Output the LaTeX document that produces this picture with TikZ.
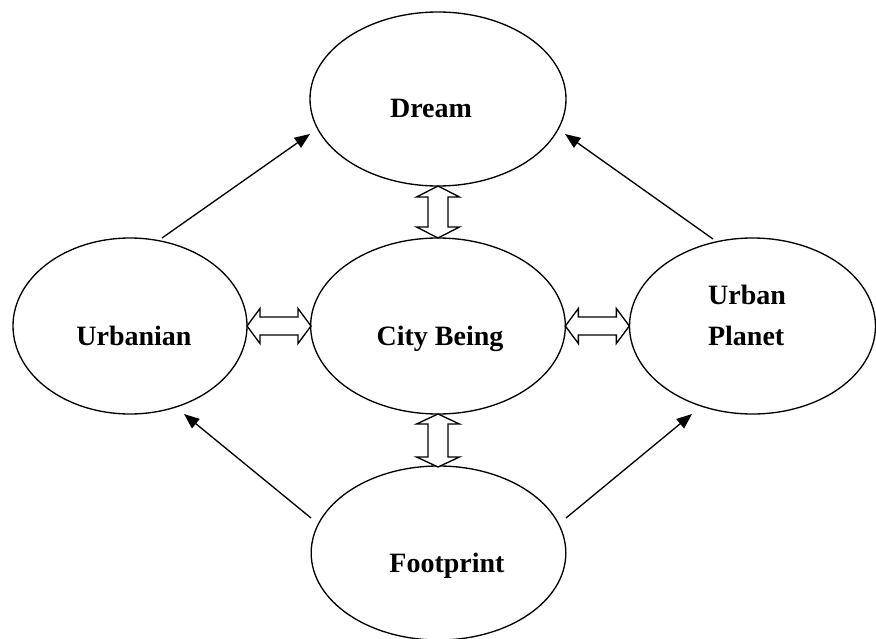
\documentclass[tikz,border=0pt]{standalone}
\usepackage{fontspec}
\setmainfont{Liberation Serif}
\usetikzlibrary{shapes.geometric,arrows.meta}
\begin{document}
\begin{tikzpicture}[x=0.75pt,y=-0.75pt,
  oval/.style={ellipse,draw,line width=1pt,inner sep=0pt,outer sep=0pt},
  lbl/.style={anchor=base,font=\bfseries\fontsize{21}{30.5}\selectfont,align=center,inner sep=0pt},
  hollow/.style={draw,line width=1pt,fill=white,line join=miter},
  link/.style={line width=1pt,-{Triangle[length=11.5pt,width=9pt]}}]
\useasboundingbox (0,0) rectangle (876,639);
% ellipses
\node[oval,minimum width=192pt,minimum height=130.5pt] (dream) at (438,99) {};
\node[oval,minimum width=191pt,minimum height=132pt] (city) at (438,326) {};
\node[oval,minimum width=175.5pt,minimum height=132pt] (urb) at (130,326) {};
\node[oval,minimum width=184.5pt,minimum height=132pt] (planet) at (752.5,326) {};
\node[oval,minimum width=191pt,minimum height=130.5pt] (foot) at (438.5,553) {};
% labels
\node[lbl] (tdream) at (431,117) {Dream};
\node[lbl] (tcity) at (440,345) {City Being};
\node[lbl] (turb) at (134,345) {Urbanian};
\node[lbl,align=left] (tplanet) at (747,345) {Urban\\Planet};
\node[lbl] (tfoot) at (447,572) {Footprint};
% hollow double arrows
\draw[hollow] (dream.south) -- ++(21.5,11) -- ++(-11.5,0) -- ++(0,30) -- ++(11.5,0) -- ++(-21.5,11) -- ++(-21.5,-11) -- ++(11.5,0) -- ++(0,-30) -- ++(-11.5,0) -- cycle;
\draw[hollow] (city.south) -- ++(21.5,10) -- ++(-11.5,0) -- ++(0,33) -- ++(11.5,0) -- ++(-21.5,10) -- ++(-21.5,-10) -- ++(11.5,0) -- ++(0,-33) -- ++(-11.5,0) -- cycle;
\draw[hollow] (urb.east) -- ++(13,-17.5) -- ++(0,8.5) -- ++(38,0) -- ++(0,-8.5) -- ++(13,17.5) -- ++(-13,17.5) -- ++(0,-8.5) -- ++(-38,0) -- ++(0,8.5) -- cycle;
\draw[hollow] (city.east) -- ++(13,-17.5) -- ++(0,8.5) -- ++(38,0) -- ++(0,-8.5) -- ++(13,17.5) -- ++(-13,17.5) -- ++(0,-8.5) -- ++(-38,0) -- ++(0,8.5) -- cycle;
% single arrows
\coordinate (a1s) at (162,238);
\coordinate (a1e) at (310,134);
\coordinate (a2s) at (713,239);
\coordinate (a2e) at (565,134);
\coordinate (a3s) at (311,518);
\coordinate (a3e) at (184,414);
\coordinate (a4s) at (566,518);
\coordinate (a4e) at (692,414);
\draw[link] (a1s) -- (a1e);
\draw[link] (a2s) -- (a2e);
\draw[link] (a3s) -- (a3e);
\draw[link] (a4s) -- (a4e);
\end{tikzpicture}
\end{document}
